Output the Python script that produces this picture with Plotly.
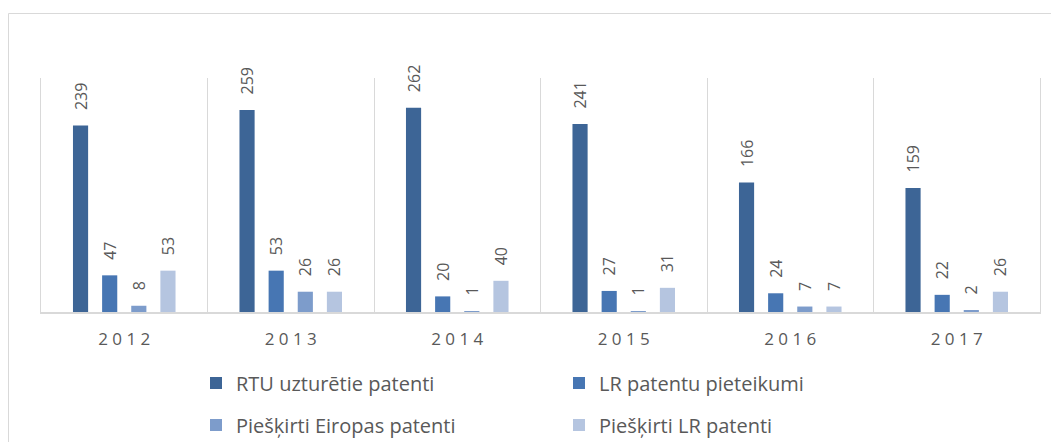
import plotly.graph_objects as go

years = ["2012", "2013", "2014", "2015", "2016", "2017"]
series_names = ["RTU uzturētie patenti", "LR patentu pieteikumi",
                "Piešķirti Eiropas patenti", "Piešķirti LR patenti"]
rtu_maintained = [239, 259, 262, 241, 166, 159]
lr_applications = [47, 53, 20, 27, 24, 22]
eu_granted = [8, 26, 1, 1, 7, 2]
lr_granted = [53, 26, 40, 31, 7, 26]
year_labels = [" ".join(y) for y in years]

colors = ["#3D6596", "#4776B3", "#7D9CCB", "#B5C5E0"]
values = [rtu_maintained, lr_applications, eu_granted, lr_granted]
legends = ["legend", "legend", "legend2", "legend2"]

FONT = "Open Sans"
GRAY = "#595959"
LINE = "#D9D9D9"

fig = go.Figure()
for name, vals, col, lg in zip(series_names, values, colors, legends):
    fig.add_trace(go.Bar(
        x=years, y=vals, name=name, marker_color=col, marker_line_width=0,
        texttemplate="\u00a0\u00a0\u00a0%{y}", textposition="outside",
        textangle=-90, constraintext="none", cliponaxis=False,
        textfont=dict(family=FONT, size=16, color=GRAY),
        legend=lg,
    ))

# the page body adds an 8px offset; work in figure pixels
OFF = 8
W, H = 1059 - OFF, 442 - OFF
L, R, T, B = 41 - OFF, 19, 78 - OFF, 130
pw, ph = W - L - R, H - T - B

def px2x(p):
    return (p - OFF - L) / pw

def px2y(p):
    return (H - B - (p - OFF)) / ph

legend_common = dict(orientation="h", xanchor="left", yanchor="middle",
                     entrywidth=318, entrywidthmode="pixels",
                     font=dict(family=FONT, size=20, color=GRAY),
                     bgcolor="rgba(0,0,0,0)")

fig.update_layout(
    width=W, height=H,
    margin=dict(l=L, r=R, t=T, b=B, pad=0, autoexpand=False),
    paper_bgcolor="white", plot_bgcolor="white",
    barmode="group", bargap=0.3, bargroupgap=0.48,
    font=dict(family=FONT, color=GRAY),
    showlegend=True,
    legend=dict(x=px2x(196), y=px2y(383), **legend_common),
    legend2=dict(x=px2x(196), y=px2y(425), **legend_common),
    xaxis=dict(type="category", tickmode="array", tickvals=years, ticktext=year_labels,
               tickson="boundaries", showgrid=True, gridcolor=LINE, gridwidth=1,
               showline=True, linecolor=LINE, linewidth=1.5, ticks="",
               ticklabelstandoff=11,
               tickfont=dict(family=FONT, size=17, color=GRAY), range=[-0.5, 5.5],
               zeroline=False),
    yaxis=dict(range=[0, 300], showgrid=False, showticklabels=False, zeroline=False,
               showline=True, linecolor=LINE, linewidth=1, mirror=True, ticks=""),
    shapes=[dict(type="rect", xref="paper", yref="paper",
                 x0=px2x(8.5), x1=px2x(1070), y0=px2y(460), y1=px2y(13.5),
                 line=dict(color=LINE, width=1), fillcolor="rgba(0,0,0,0)", layer="below")],
)

fig.write_html("out.html")
